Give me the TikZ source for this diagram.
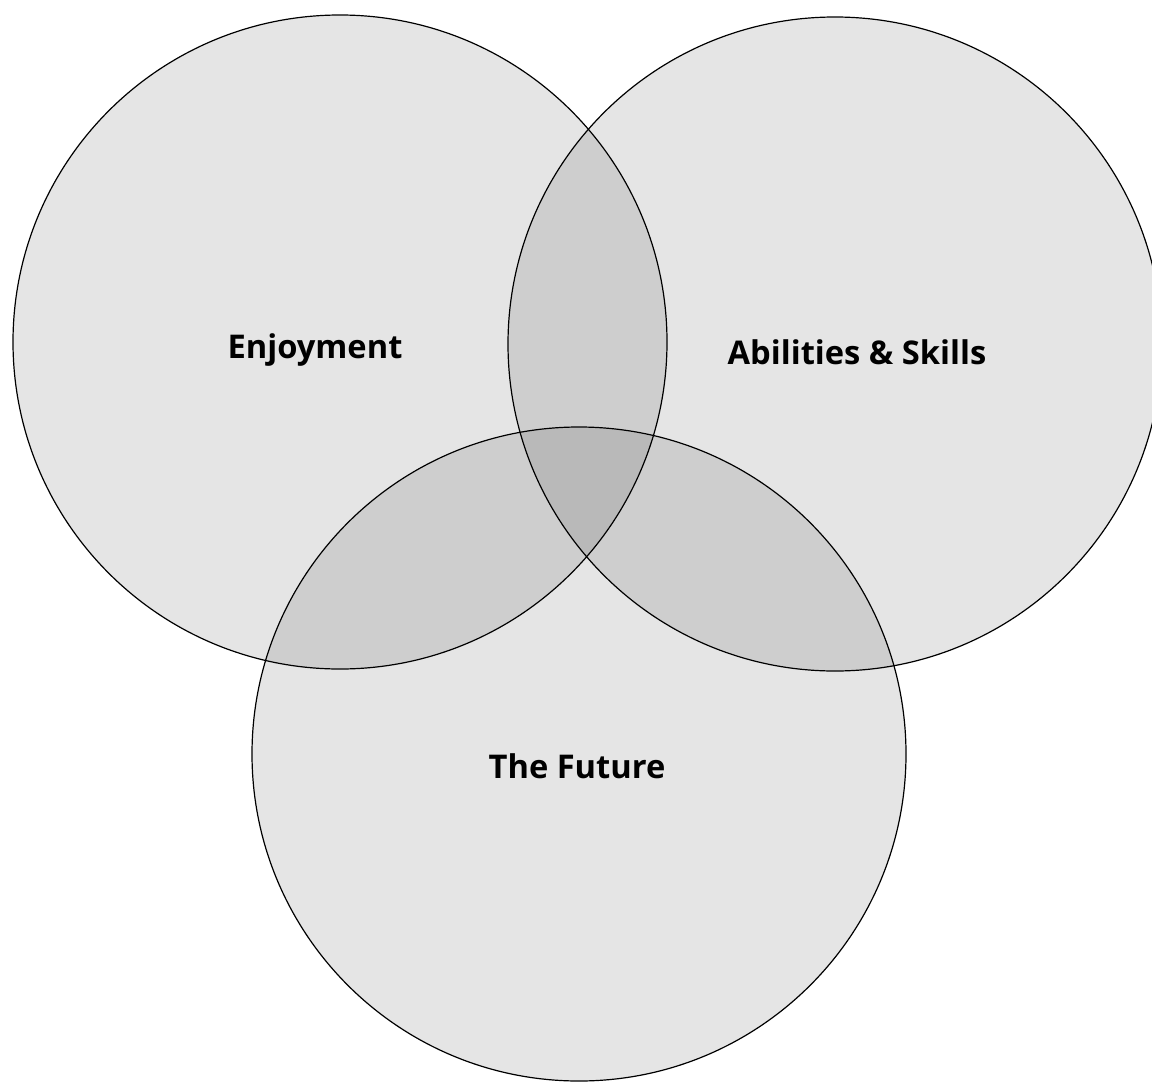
\documentclass[tikz,border=0pt]{standalone}
\usepackage{fontspec}
\setmainfont{Open Sans}
\begin{document}
\begin{tikzpicture}[x=0.75pt,y=-0.75pt,
  venn/.style={draw=black, line width=0.9pt, fill=black, fill opacity=0.1},
  lbl/.style={font=\bfseries\fontsize{24.5}{29}\selectfont, text=black, text opacity=1}]
\useasboundingbox (0,0) rectangle (1152,1081);
\begin{scope}
\clip (0,0) rectangle (1152,1081);
\path[venn] (340,342) circle[radius=327];
\path[venn] (835,344) circle[radius=327];
\path[venn] (579,754) circle[radius=327];
\end{scope}
\node[lbl] (enj) at (315,350) {Enjoyment};
\node[lbl] (abs) at (857,352) {Abilities \& Skills};
\node[lbl] (fut) at (577,766) {The Future};
\end{tikzpicture}
\end{document}
